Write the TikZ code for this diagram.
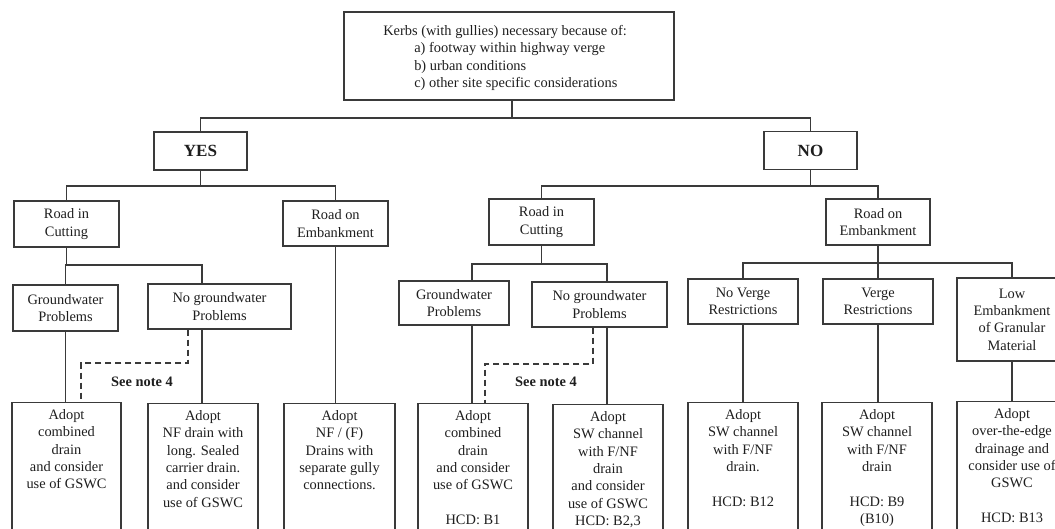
\documentclass[tikz,border=0pt]{standalone}
\usepackage{fontspec}
\setmainfont{Liberation Serif}
\definecolor{linec}{HTML}{3A3A3A}
\definecolor{textc}{HTML}{1E1E1E}
\tikzset{
  bx/.style={draw=linec, line width=0.8pt, inner sep=0pt, align=center, text=textc,
    font=\fontsize{10.8}{13}\selectfont},
  bigbx/.style={bx, font=\fontsize{12.8}{15}\selectfont\bfseries},
  txt/.style={inner sep=0pt, align=center, text=textc, font=\fontsize{10.8}{13}\selectfont, anchor=north},
  conn/.style={draw=linec, line width=0.8pt},
  dashconn/.style={draw=linec, line width=0.8pt, dash pattern=on 4.5pt off 3pt},
  note/.style={inner sep=0pt, text=textc, font=\fontsize{10.8}{13}\selectfont\bfseries}
}
\begin{document}
\begin{tikzpicture}[x=0.75pt,y=-0.75pt]
\useasboundingbox (0,0) rectangle (1055,528);
\clip (0,0) rectangle (1055,528);
% top
\node[bx, minimum width=330*0.75pt, minimum height=88*0.75pt] (top) at (509,56) {};
\node[inner sep=0pt, align=left, anchor=north west, text=textc, font=\fontsize{10.8}{13}\selectfont] (toptxt) at (383,25)
 {Kerbs (with gullies) necessary because of:\\
  \hspace*{23.25pt}a) footway within highway verge\\
  \hspace*{23.25pt}b) urban conditions\\
  \hspace*{23.25pt}c) other site specific considerations};
% level 1
\node[bigbx, minimum width=93*0.75pt, minimum height=38*0.75pt] (yes) at (200.5,151) {YES};
\node[bigbx, minimum width=93*0.75pt, minimum height=38*0.75pt] (no) at (810.5,150.5) {NO};
% level 2
\node[bx, minimum width=105*0.75pt, minimum height=46*0.75pt] (rcy) at (66.5,224) {Road in\\Cutting};
\node[bx, minimum width=105*0.75pt, minimum height=45*0.75pt] (rey) at (335.5,223.5) {Road on\\Embankment};
\node[bx, minimum width=105*0.75pt, minimum height=46*0.75pt] (rcn) at (541.5,222) {Road in\\Cutting};
\node[bx, minimum width=104*0.75pt, minimum height=46*0.75pt] (ren) at (878,222) {Road on\\Embankment};
% level 3
\node[bx, minimum width=105*0.75pt, minimum height=46*0.75pt] (gwy) at (65.5,308) {Groundwater\\Problems};
\node[bx, minimum width=143*0.75pt, minimum height=45*0.75pt] (ngy) at (219.5,306.5) {No groundwater\\Problems};
\node[bx, minimum width=110*0.75pt, minimum height=44*0.75pt] (gwn) at (454,303) {Groundwater\\Problems};
\node[bx, minimum width=135*0.75pt, minimum height=45*0.75pt] (ngn) at (599.5,304.5) {No groundwater\\Problems};
\node[bx, minimum width=110*0.75pt, minimum height=45*0.75pt] (nvr) at (743,301.5) {No Verge\\Restrictions};
\node[bx, minimum width=110*0.75pt, minimum height=45*0.75pt] (vr) at (878,301.5) {Verge\\Restrictions};
\node[bx, minimum width=110*0.75pt, minimum height=83*0.75pt] (low) at (1012,319.5) {Low\\Embankment\\of Granular\\Material};
% bottom boxes
\node[bx, minimum width=109*0.75pt, minimum height=150*0.75pt, anchor=north] (b1) at (66.5,402) {};
\node[bx, minimum width=110*0.75pt, minimum height=150*0.75pt, anchor=north] (b2) at (203,403) {};
\node[bx, minimum width=111*0.75pt, minimum height=150*0.75pt, anchor=north] (b3) at (339.5,403) {};
\node[bx, minimum width=110*0.75pt, minimum height=150*0.75pt, anchor=north] (b4) at (473,403) {};
\node[bx, minimum width=110*0.75pt, minimum height=150*0.75pt, anchor=north] (b5) at (608,404) {};
\node[bx, minimum width=110*0.75pt, minimum height=150*0.75pt, anchor=north] (b6) at (743,402) {};
\node[bx, minimum width=110*0.75pt, minimum height=150*0.75pt, anchor=north] (b7) at (877,402) {};
\node[bx, minimum width=110*0.75pt, minimum height=150*0.75pt, anchor=north] (b8) at (1012,401) {};
\node[txt] (t1) at ([yshift=-5.5pt]b1.north) {Adopt\\combined\\drain\\and consider\\use of GSWC};
\node[txt] (t2) at ([yshift=-5.5pt]b2.north) {Adopt\\NF drain with\\long. Sealed\\carrier drain.\\and consider\\use of GSWC};
\node[txt] (t3) at ([yshift=-5.5pt]b3.north) {Adopt\\NF / (F)\\Drains with\\separate gully\\connections.};
\node[txt] (t4) at ([yshift=-5.5pt]b4.north) {Adopt\\combined\\drain\\and consider\\use of GSWC\\[13pt]HCD: B1};
\node[txt] (t5) at ([yshift=-5.5pt]b5.north) {Adopt\\SW channel\\with F/NF\\drain\\and consider\\use of GSWC\\HCD: B2,3};
\node[txt] (t6) at ([yshift=-5.5pt]b6.north) {Adopt\\SW channel\\with F/NF\\drain.\\[13pt]HCD: B12};
\node[txt] (t7) at ([yshift=-5.5pt]b7.north) {Adopt\\SW channel\\with F/NF\\drain\\[13pt]HCD: B9\\(B10)};
\node[txt] (t8) at ([yshift=-5.5pt]b8.north) {Adopt\\over-the-edge\\drainage and\\consider use of\\GSWC\\[13pt]HCD: B13};
% notes
\node[note] (n1) at (142,382) {See note 4};
\node[note] (n2) at (546,382) {See note 4};
% bus coordinates
\coordinate (busT) at (512,118);
\coordinate (busY) at (201,186);
\coordinate (busN) at (810,186);
\coordinate (busRCY) at (67,265);
\coordinate (busRCN) at (541,264);
\coordinate (busREN) at (878,263);
\coordinate (xNGY) at (202,0);
\coordinate (xGWN) at (472,0);
\coordinate (xNGN) at (607,0);
% connectors
\draw[conn] (top.south -| busT) -- (busT);
\draw[conn] (yes.north) |- (busT) -| (no.north);
\draw[conn] (yes.south) -- (yes.south |- busY);
\draw[conn] (rcy.north) |- (busY) -| (rey.north);
\draw[conn] (no.south) -- (no.south |- busN);
\draw[conn] (rcn.north) |- (busN) -| (ren.north);
\draw[conn] (rcy.south) -- (rcy.south |- busRCY);
\draw[conn] (gwy.north) |- (busRCY) -| (ngy.north -| xNGY);
\draw[conn] (gwy.south) -- (gwy.south |- b1.north);
\draw[conn] (ngy.south -| xNGY) -- (b2.north -| xNGY);
\draw[conn] (rey.south) -- (rey.south |- b3.north);
\draw[conn] (rcn.south) -- (rcn.south |- busRCN);
\draw[conn] (gwn.north -| xGWN) |- (busRCN) -| (ngn.north -| xNGN);
\draw[conn] (gwn.south -| xGWN) -- (b4.north -| xGWN);
\draw[conn] (ngn.south -| xNGN) -- (b5.north -| xNGN);
\draw[conn] (ren.south) -- (ren.south |- busREN);
\draw[conn] (nvr.north) |- (busREN) -| (low.north);
\draw[conn] (vr.north) -- (vr.north |- busREN);
\draw[conn] (nvr.south) -- (nvr.south |- b6.north);
\draw[conn] (vr.south) -- (vr.south |- b7.north);
\draw[conn] (low.south) -- (low.south |- b8.north);
% dashed notes
\draw[dashconn] (ngy.south -| 188,0) |- (81,363) -- (b1.north -| 81,0);
\draw[dashconn] (ngn.south -| 593,0) |- (485,364) -- (b4.north -| 485,0);
\end{tikzpicture}
\end{document}
